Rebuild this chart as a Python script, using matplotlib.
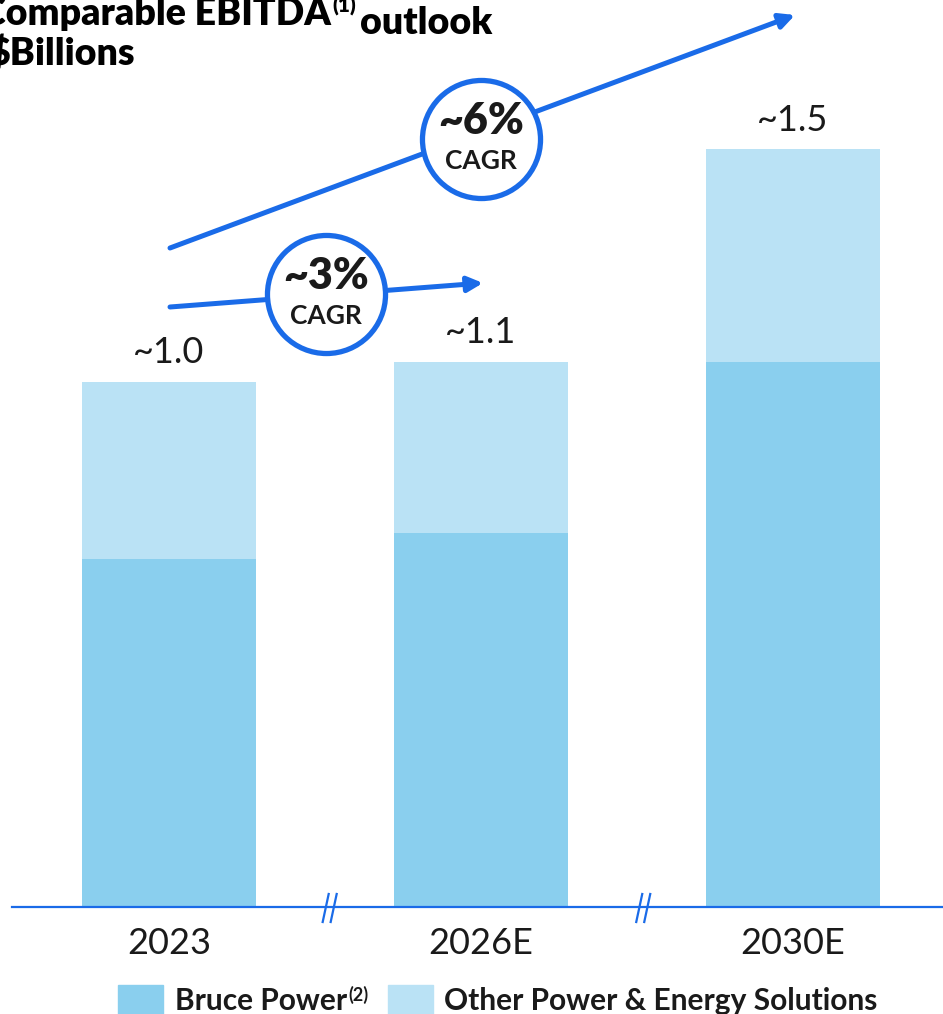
import matplotlib.pyplot as plt
from matplotlib.patches import Rectangle

plt.rcParams["font.family"] = ["Lato", "DejaVu Sans"]

# data (C$ billions)
years = ["2023", "2026E", "2030E"]
bruce = [0.69, 0.74, 1.08]
other = [0.35, 0.34, 0.42]
totals_txt = ["~1.0", "~1.1", "~1.5"]
cagr_txt = ["~3%", "~6%"]

c_bruce = "#8ACFEE"
c_other = "#BAE2F5"
c_blue = "#1A6BE8"
c_text = "#1a1a1a"

W, H = 943, 1014
fig = plt.figure(figsize=(W / 100, H / 100), dpi=100)
ax = fig.add_axes([0, 0, 1, 1])
# pixel mapping: category 0 centre at x=169px, 312px per category; y=0 at 907px, 505px per unit
ax.set_xlim(-169 / 312, (W - 169) / 312)
ax.set_ylim(-(H - 907) / 505, 907 / 505)
ax.axis("off")

x = range(len(years))
bw = 174 / 312
ax.bar(x, bruce, bw, color=c_bruce, zorder=2)
ax.bar(x, other, bw, bottom=bruce, color=c_other, zorder=2)

for i, (b, o) in enumerate(zip(bruce, other)):
    ax.annotate(totals_txt[i], (i, b + o), xytext=(0, 9), textcoords="offset points",
                ha="center", va="bottom", fontsize=26, color=c_text)
    ax.text(i, -37 / 505, years[i], ha="center", va="center", fontsize=26, color=c_text)

# baseline with axis breaks
ax.axhline(0, xmin=12 / W, color=c_blue, lw=1.6, zorder=3)
for xm in (0.515, 1.52):
    for k in (-4, 4):
        ax.plot([xm + (k - 3) / 312, xm + (k + 3) / 312], [-15 / 505, 13 / 505],
                color=c_blue, lw=1.6, zorder=4)

# CAGR arrows
def px(xp, yp):
    return ((xp - 169) / 312, (907 - yp) / 505)

arrows = [((170, 307), (483, 283)), ((170, 248), (795, 15))]
circles = [(326, 294), (481, 139)]
for (s, e), c, t in zip(arrows, circles, cagr_txt):
    ax.annotate("", xy=px(*e), xytext=px(*s),
                arrowprops=dict(arrowstyle="-|>,head_length=0.9,head_width=0.45",
                                color=c_blue, lw=3.6, shrinkA=0, shrinkB=0), zorder=5)
    cx, cy = px(*c)
    ax.plot(cx, cy, "o", ms=85, mfc="white", mec=c_blue, mew=3.8, zorder=6)
    ax.text(cx, cy + 18 / 505, t, ha="center", va="center", fontsize=31,
            fontweight="heavy", color=c_text, zorder=7)
    ax.text(cx, cy - 22 / 505, "CAGR", ha="center", va="center", fontsize=19,
            fontweight="bold", color=c_text, zorder=7)

# title (cut off at the left edge, as in the source slide)
t1 = fig.text(-19 / W, 1 - 25 / H, "Comparable EBITDA", fontsize=27, fontweight="heavy",
              color="black", va="baseline")
t2 = ax.annotate("(1)", xy=(1, 0), xycoords=t1, xytext=(1, 13), textcoords="offset points",
                 fontsize=15, fontweight="heavy", va="baseline")
ax.annotate("outlook", xy=(1, 0), xycoords=t2, xytext=(3, -13), textcoords="offset points",
            fontsize=27, fontweight="heavy", va="baseline")
fig.text(-12 / W, 1 - 65 / H, "$Billions", fontsize=27, fontweight="heavy",
         color="black", va="baseline")

# legend
for x0, col in ((118, c_bruce), (388, c_other)):
    fig.patches.append(Rectangle((x0 / W, -0.02), 45 / W, (H - 985) / H + 0.02,
                                 transform=fig.transFigure, color=col))
l1 = fig.text(175 / W, 1 - 1010 / H, "Bruce Power", fontsize=21.5, fontweight="bold",
              color=c_text, va="baseline")
ax.annotate("(2)", xy=(1, 0), xycoords=l1, xytext=(1, 10), textcoords="offset points",
            fontsize=13, fontweight="bold", va="baseline", color=c_text)
fig.text(444 / W, 1 - 1010 / H, "Other Power & Energy Solutions", fontsize=21.5,
         fontweight="bold", color=c_text, va="baseline")

fig.savefig("out.png", dpi=100)
